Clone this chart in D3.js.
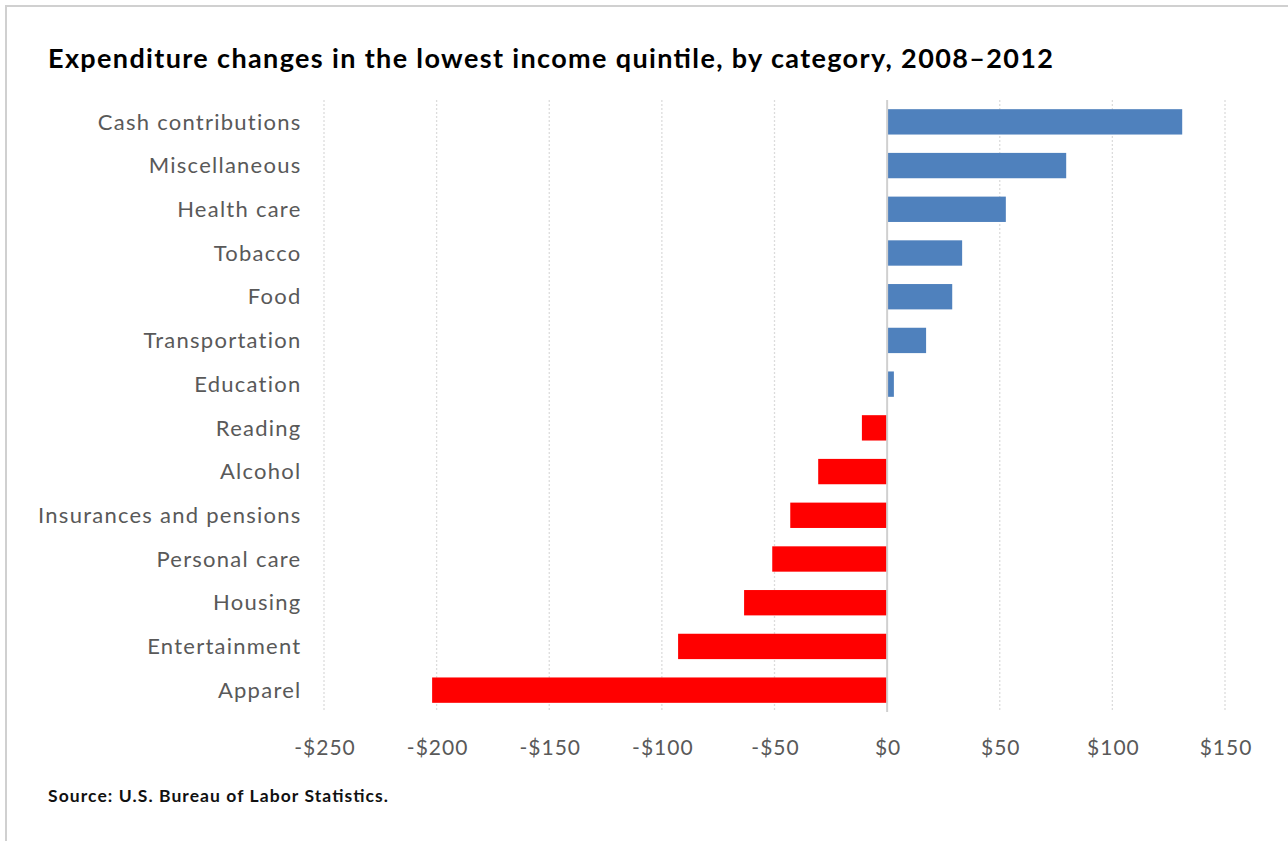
<!DOCTYPE html>
<html>
<head>
<meta charset="utf-8">
<script src="https://cdn.jsdelivr.net/npm/d3@7"></script>
<style>
  html, body { margin: 0; padding: 0; background: #fff; }
  svg { display: block; }
</style>
</head>
<body>
<svg id="chart" width="1288" height="841"></svg>
<script>
const categories = ["Cash contributions", "Miscellaneous", "Health care", "Tobacco", "Food", "Transportation", "Education", "Reading", "Alcohol", "Insurances and pensions", "Personal care", "Housing", "Entertainment", "Apparel"];
const values = [131, 79.5, 52.7, 33.3, 28.9, 17.3, 3, -11.2, -30.6, -43, -51, -63.5, -92.8, -202];
const tickValues = [-250, -200, -150, -100, -50, 0, 50, 100, 150];
const tickLabels = ["-$250", "-$200", "-$150", "-$100", "-$50", "$0", "$50", "$100", "$150"];
const titleText = "Expenditure changes in the lowest income quintile, by category, 2008\u20132012";
const sourceText = "Source: U.S. Bureau of Labor Statistics.";

const svg = d3.select("#chart");
const W = 1288, H = 841;

// frame
svg.append("rect").attr("x", 6).attr("y", 6).attr("width", W + 10).attr("height", H + 10)
  .attr("fill", "#fff").attr("stroke", "#d0d0d0").attr("stroke-width", 2);

const x = d3.scaleLinear().domain([-250, 150]).range([324, 1225]);
const y = d3.scaleBand().domain(categories).range([100, 712]).paddingInner(0.42).paddingOuter(0.21);

// gridlines
svg.append("g").selectAll("line").data(tickValues.filter(v => v !== 0)).join("line")
  .attr("x1", d => x(d)).attr("x2", d => x(d)).attr("y1", 100).attr("y2", 712)
  .attr("stroke", "#dcdcdc").attr("stroke-width", 1.3).attr("stroke-dasharray", "2,2");

// bars
svg.append("g").selectAll("rect").data(values).join("rect")
  .attr("x", d => x(Math.min(0, d)))
  .attr("width", d => Math.abs(x(d) - x(0)))
  .attr("y", (d, i) => y(categories[i]))
  .attr("height", y.bandwidth())
  .attr("fill", d => d >= 0 ? "#4f81bd" : "#ff0000");

// zero line
svg.append("line").attr("x1", x(0)).attr("x2", x(0)).attr("y1", 100).attr("y2", 712)
  .attr("stroke", "#d0d0d0").attr("stroke-width", 2);

// y axis labels
const yAxis = d3.axisLeft(y).tickSize(0).tickPadding(0);
const gy = svg.append("g").attr("transform", "translate(301.5,0)").call(yAxis);
gy.select(".domain").remove();
gy.selectAll("text").attr("font-family", "Lato, 'Open Sans', sans-serif").attr("font-size", 22)
  .attr("letter-spacing", "1.25px")
  .attr("fill", "#595959").attr("dy", "0.35em");

// x axis labels
const xAxis = d3.axisBottom(x).tickValues(tickValues).tickFormat((d, i) => tickLabels[i]).tickSize(0).tickPadding(0);
const gx = svg.append("g").attr("transform", "translate(0.5,748)").call(xAxis);
gx.select(".domain").remove();
gx.selectAll("text").attr("font-family", "Lato, 'Open Sans', sans-serif").attr("font-size", 21)
  .attr("letter-spacing", "1px")
  .attr("fill", "#595959").attr("dy", "0.35em");

// title
svg.append("text").attr("x", 48).attr("y", 68).text(titleText)
  .attr("font-family", "Lato, sans-serif").attr("font-weight", "bold").attr("font-size", 27)
  .attr("textLength", 1005).attr("lengthAdjust", "spacing").attr("fill", "#000");

// source
svg.append("text").attr("x", 48).attr("y", 802).text(sourceText)
  .attr("font-family", "Lato, sans-serif").attr("font-weight", "bold").attr("font-size", 17.5)
  .attr("textLength", 340).attr("lengthAdjust", "spacing").attr("fill", "#111");
</script>
</body>
</html>
